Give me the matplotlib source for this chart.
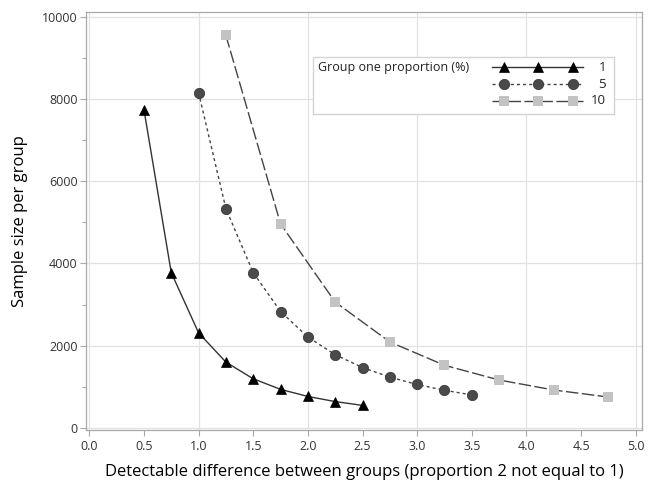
import matplotlib
matplotlib.use("Agg")
import matplotlib.pyplot as plt
from matplotlib.ticker import MultipleLocator, FormatStrFormatter
from matplotlib.patches import Rectangle
from matplotlib.lines import Line2D

plt.rcParams['font.family'] = ['Open Sans', 'DejaVu Sans']
plt.rcParams['lines.scale_dashes'] = False

# ---- data ----
x_p1 = [0.5, 0.75, 1.0, 1.25, 1.5, 1.75, 2.0, 2.25, 2.5]
n_p1 = [7740, 3775, 2312, 1600, 1195, 938, 765, 641, 548]

x_p5 = [1.0, 1.25, 1.5, 1.75, 2.0, 2.25, 2.5, 2.75, 3.0, 3.25, 3.5]
n_p5 = [8150, 5330, 3775, 2830, 2210, 1780, 1468, 1235, 1056, 915, 803]

x_p10 = [1.25, 1.75, 2.25, 2.75, 3.25, 3.75, 4.25, 4.75]
n_p10 = [9540, 4960, 3060, 2090, 1523, 1165, 922, 751]

labels = ['1', '5', '10']
legend_title = 'Group one proportion (%)'
xlabel = 'Detectable difference between groups (proportion 2 not equal to 1)'
ylabel = 'Sample size per group'

# ---- styles ----
styles = [
    dict(color='#333333', lw=1.0, ls='-', marker='^', ms=7.8, mfc='black', mec='black', mew=0.5),
    dict(color='#444444', lw=1.0, ls=(0, (2.2, 2.2)), marker='o', ms=7.4, mfc='#4a4a4a', mec='#3a3a3a', mew=0.6),
    dict(color='#444444', lw=1.0, ls=(0, (9, 2.5)), marker='s', ms=7.2, mfc='#c3c3c3', mec='#c3c3c3', mew=0.0),
]

fig = plt.figure(figsize=(6.59, 4.86), dpi=100)
ax = fig.add_axes([86/659, 1-430/486, (642-86)/659, (430-12)/486])

series = [(x_p1, n_p1), (x_p5, n_p5), (x_p10, n_p10)]
for (xs, ys), st in zip(series, styles):
    ax.plot(xs, ys, color=st['color'], lw=st['lw'], ls=st['ls'], zorder=3)
    ax.plot(xs, ys, ls='none', marker=st['marker'], ms=st['ms'],
            mfc=st['mfc'], mec=st['mec'], mew=st['mew'], zorder=4)

ax.set_xlim(-0.03, 5.057)
ax.set_ylim(-50, 10110)

ax.xaxis.set_major_locator(MultipleLocator(1.0))
ax.xaxis.set_minor_locator(MultipleLocator(0.5))
ax.xaxis.set_major_formatter(FormatStrFormatter('%.1f'))
ax.xaxis.set_minor_formatter(FormatStrFormatter('%.1f'))
ax.yaxis.set_major_locator(MultipleLocator(2000))
ax.yaxis.set_minor_locator(MultipleLocator(1000))

grid_c = '#e2e2e2'
spine_c = '#a8a8a8'
ax.grid(True, which='major', color=grid_c, lw=0.9, zorder=0)
ax.set_axisbelow(True)
for s in ax.spines.values():
    s.set_color(spine_c)
    s.set_linewidth(0.9)

ax.tick_params(axis='both', which='both', colors=spine_c, labelcolor='#333333',
               labelsize=9, direction='out')
ax.tick_params(axis='x', which='both', length=4, width=0.8, pad=3)
ax.tick_params(axis='y', which='major', length=4, width=0.8, pad=2)
ax.tick_params(axis='y', which='minor', length=3, width=0.8)

ax.set_xlabel(xlabel, fontsize=12, color='black', labelpad=8)
ax.set_ylabel(ylabel, fontsize=12, color='black', labelpad=10)

# ---- legend (manual, SAS style) ----
def ax_x(px):
    return (px - 86) / 556
def ax_y(py):
    return (430 - py) / 418

t = ax.transAxes
ax.add_patch(Rectangle((ax_x(312.7), ax_y(114)), ax_x(614) - ax_x(312.7), ax_y(57.3) - ax_y(114),
                       transform=t, facecolor='white', edgecolor='#d4d4d4', lw=1.0, zorder=5))
ax.text(ax_x(318), ax_y(67.5), legend_title, transform=t, fontsize=9, ha='left', va='center',
        color='#222222', zorder=6)
row_y = [67.3, 84.3, 101.0]
mk_x = [ax_x(504), ax_x(537.5), ax_x(572.5)]
for st, ry, lab in zip(styles, row_y, labels):
    yy = ax_y(ry)
    ax.add_line(Line2D([ax_x(491.7), ax_x(582.7)], [yy, yy], transform=t, color=st['color'],
                       lw=st['lw'], ls=st['ls'], zorder=6))
    ax.add_line(Line2D(mk_x, [yy] * 3, transform=t, ls='none', marker=st['marker'], ms=st['ms'],
                       mfc=st['mfc'], mec=st['mec'], mew=st['mew'], zorder=7))
    ax.text(ax_x(606), yy, lab, transform=t, fontsize=9.5, ha='right', va='center',
            color='#222222', zorder=6)

fig.savefig('out.png', dpi=100)
